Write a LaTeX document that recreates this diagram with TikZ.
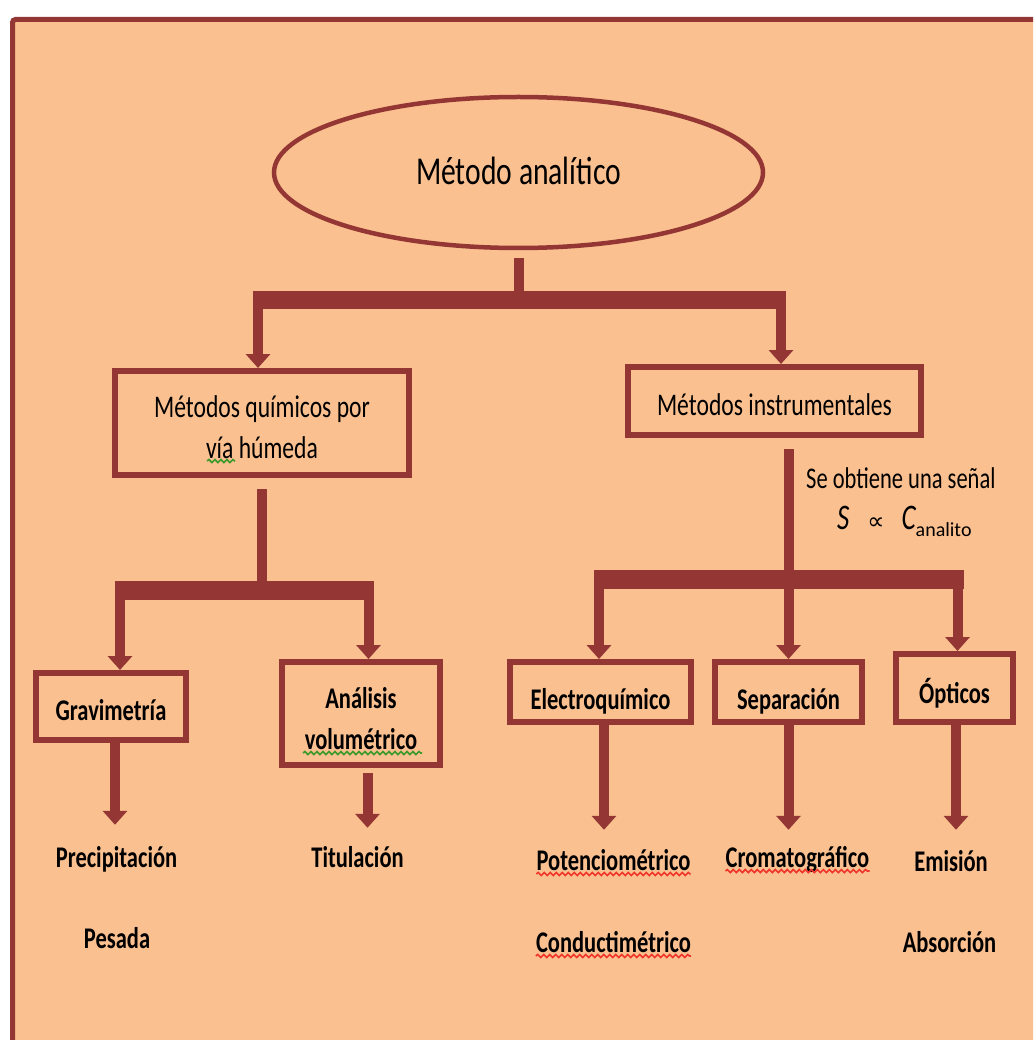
\documentclass[tikz,border=0pt]{standalone}
\usepackage{fontspec}
\setmainfont{Carlito}[FakeStretch=0.75]
\newfontfamily\widefont{Carlito}
\newfontfamily\propfont{DejaVu Sans}
\usetikzlibrary{shapes.geometric, arrows.meta, decorations.pathmorphing, calc}

\definecolor{frame}{HTML}{943634}
\definecolor{peach}{HTML}{FAC090}
\definecolor{spellred}{HTML}{F0362A}
\definecolor{spellgreen}{HTML}{3E9A2C}

\newcommand\boxfont{\fontsize{31.5}{41}\selectfont}
\newcommand\labfont{\fontsize{30}{41}\selectfont\bfseries}

\begin{document}
\begin{tikzpicture}[x=1pt, y=-1pt,
  every node/.style={inner sep=0pt, text=black},
  box/.style={draw=frame, line width=6pt, rectangle, align=center},
  lab/.style={anchor=base, font=\labfont, text height=20pt, text depth=6pt},
  stemline/.style={draw=frame, line width=10pt},
  busline/.style={draw=frame, line width=18.5pt},
  arrowline/.style={draw=frame, line width=10pt,
    -{Triangle[width=24pt, length=14pt]}},
  squig/.style={draw=#1, line width=1.6pt, decorate,
    decoration={snake, amplitude=1.5pt, segment length=6pt}}
]
% page and framed panel
\useasboundingbox (0,0) rectangle (1033,1040);
\clip (0,0) rectangle (1033,1040);
\fill[white] (0,0) rectangle (1033,1040);
\draw[frame, line width=5pt, fill=peach, rounded corners=3pt]
  (12.5,19.5) rectangle (1050,1060);

% top concept
\node[draw=frame, line width=4.5pt, ellipse, minimum width=489pt,
  minimum height=151pt, font=\fontsize{39.5}{47}\selectfont,
  text height=25pt, text depth=0pt] (title) at (518.5,172.5) {Método analítico};

% second level
\node[box, minimum width=294pt, minimum height=104pt, font=\boxfont]
  (quim) at (262,423) {\rule{0pt}{31pt}Métodos químicos por\\vía húmeda};
\node[box, minimum width=293pt, minimum height=68pt, font=\boxfont,
  text height=28pt, text depth=0pt] (inst) at (774.5,401) {Métodos instrumentales};

% third level
\node[box, minimum width=150pt, minimum height=67pt, font=\labfont,
  text height=27pt, text depth=0pt] (grav) at (111,706.5) {Gravimetría};
\node[box, minimum width=158pt, minimum height=103pt, font=\labfont]
  (vol) at (361,713.5) {\rule{0pt}{32pt}Análisis\\volumétrico};
\node[box, minimum width=181pt, minimum height=60pt, font=\labfont,
  text height=34pt, text depth=0pt] (elec) at (600.5,692) {Electroquímico};
\node[box, minimum width=147pt, minimum height=60pt, font=\labfont,
  text height=34pt, text depth=0pt] (sep) at (788.5,692) {Separación};
\node[box, minimum width=117pt, minimum height=68pt, font=\labfont,
  text height=30pt, text depth=0pt] (opt) at (954.5,688) {Ópticos};

% leaf labels
\node[lab] (prec) at (116.5,867) {Precipitación};
\node[lab] (pes)  at (117,948)   {Pesada};
\node[lab] (tit)  at (357.5,867) {Titulación};
\node[lab] (pot)  at (613.5,870) {Potenciométrico};
\node[lab] (cond) at (613.5,952) {Conductimétrico};
\node[lab] (crom) at (797.5,867) {Cromatográfico};
\node[lab] (emi)  at (951,871)   {Emisión};
\node[lab] (abs)  at (949.5,952) {Absorción};

% note on the instrumental branch
\node[anchor=base west, font=\fontsize{30}{36}\selectfont] (sig) at (806,488)
  {Se obtiene una señal};
\node[anchor=base west] (prop) at (837,529)
  {\fontsize{36}{40}\selectfont\itshape S\hspace{18pt}{\propfont\upshape\fontsize{24}{24}\selectfont ∝}\hspace{17pt}C{\widefont\upshape\fontsize{20}{20}\selectfont\raisebox{-7pt}{analito}}};

% junction points of the distribution bars
\coordinate (j1l) at (258,300);
\coordinate (j1r) at (781,300);
\coordinate (j2l) at (120,590.5);
\coordinate (j2r) at (368.5,590.5);
\coordinate (j3l) at (599,579.5);
\coordinate (j3r) at (957.5,579.5);

% method -> two families
\draw[stemline, shorten <=8pt] (title.south) -- (title.south |- j1l);
\draw[busline] ([xshift=-5pt]j1l) -- ([xshift=5pt]j1r);
\draw[arrowline] ([yshift=9pt]j1l) -- (j1l |- quim.north);
\draw[arrowline] ([yshift=9pt]j1r) -- (j1r |- inst.north);

% wet chemical methods
\draw[stemline, shorten <=11pt] (quim.south) -- (quim.south |- j2l);
\draw[busline] ([xshift=-5pt]j2l) -- ([xshift=5.5pt]j2r);
\draw[arrowline] ([yshift=9.5pt]j2l) -- (j2l |- grav.north);
\draw[arrowline] ([yshift=9.5pt]j2r) -- (j2r |- vol.north);

% instrumental methods
\draw[busline] ([xshift=-5pt]j3l) -- ([xshift=6.5pt]j3r);
\draw[arrowline, shorten <=11pt] (inst.south -| sep.north) -- (sep.north);
\draw[arrowline] ([yshift=9.5pt]j3l) -- (j3l |- elec.north);
\draw[arrowline] ([yshift=9.5pt]j3r) -- (j3r |- opt.north);

% techniques
\draw[arrowline, shorten >=22pt] ([xshift=4pt]grav.south) -- ([xshift=4pt]grav.south |- prec.north);
\draw[arrowline, shorten <=5pt, shorten >=19pt] ([xshift=6.5pt]vol.south) -- ([xshift=6.5pt]vol.south |- tit.north);
\draw[arrowline, shorten >=20pt] ([xshift=3.5pt]elec.south) -- ([xshift=3.5pt]elec.south |- pot.north);
\draw[arrowline, shorten >=17pt] (sep.south) -- (sep.south |- crom.north);
\draw[arrowline, shorten >=21pt] ([xshift=1.5pt]opt.south) -- ([xshift=1.5pt]opt.south |- emi.north);

% spell-check underlines
\draw[squig=spellgreen] ($(quim.center)+(-55,38)$) -- ($(quim.center)+(-27,38)$);
\draw[squig=spellgreen] ($(vol.center)+(-58,39.5)$) -- ($(vol.center)+(61,39.5)$);
\draw[squig=spellred] ([yshift=-4pt]pot.base west) -- ([yshift=-4pt]pot.base east);
\draw[squig=spellred] ([yshift=-4pt]crom.base west) -- ([yshift=-4pt]crom.base east);
\draw[squig=spellred] ([yshift=-4pt]cond.base west) -- ([yshift=-4pt]cond.base east);
\end{tikzpicture}
\end{document}
